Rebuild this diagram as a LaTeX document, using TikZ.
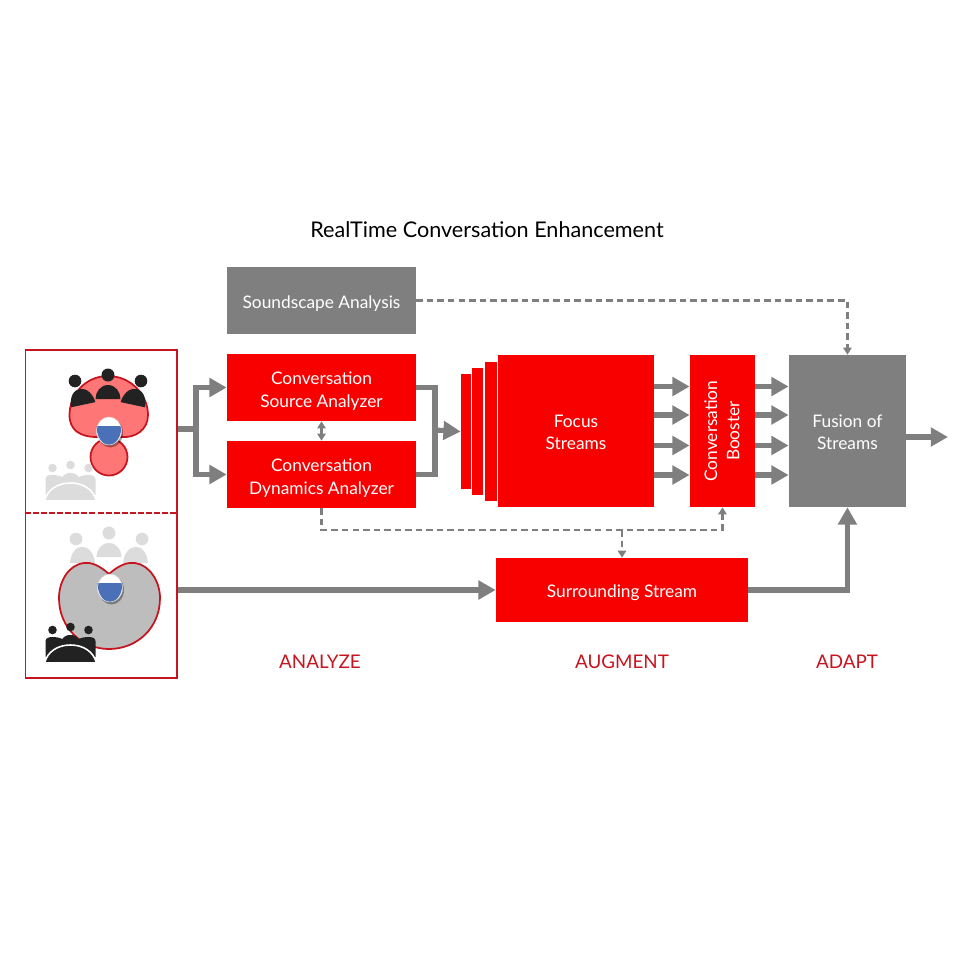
\documentclass[tikz,border=0pt]{standalone}
\usepackage{fontspec}
\setmainfont{Lato}
\usetikzlibrary{arrows.meta,calc,positioning}
\definecolor{boxred}{HTML}{F80000}
\definecolor{boxgray}{HTML}{7F7F7F}
\definecolor{lobered}{HTML}{FF7676}
\definecolor{lobeline}{HTML}{C8141E}
\definecolor{lobegray}{HTML}{BDBDBD}
\definecolor{headblue}{HTML}{4A70B8}
\definecolor{crowdgray}{HTML}{DCDCDC}
\definecolor{crowdblack}{HTML}{222222}
\tikzstyle{block} = [rectangle, fill=boxred, text=white, align=center, inner sep=0pt,
    font=\fontsize{9.85}{12.6}\selectfont, execute at begin node={\rule{0pt}{10.5pt}}]
\tikzstyle{wide} = [block, minimum width=3.78cm, minimum height=1.34cm]
\tikzstyle{tall} = [block, minimum height=3.04cm]
\tikzstyle{layer} = [rectangle, fill=boxred, inner sep=0pt]
\tikzstyle{line} = [draw=boxgray, line width=2.9pt, -{Triangle[width=10.4pt,length=9.8pt]}]
\tikzstyle{plain} = [draw=boxgray, line width=2.9pt]
\tikzstyle{ctrl} = [draw=boxgray, line width=1.2pt, dash pattern=on 3.7pt off 2.3pt, -{Triangle[width=4.8pt,length=4pt]}]
\tikzstyle{lobe} = [draw=lobeline, line width=1pt]
\tikzstyle{caption} = [text=lobeline, font=\fontsize{10.7}{12}\selectfont]
% two lines of box text, the first row taller to push them down
\newcommand{\twolines}[3]{\begin{tabular}{@{}c@{}}\rule{0pt}{#1}#2\\#3\end{tabular}}
% listener seen from above
\newcommand{\listener}[2]{
    \fill[black,opacity=0.35] (#1+1.5,#2+2) ellipse (12.5 and 14.5);
    \fill[white] (#1,#2) ellipse (12.5 and 14);
    \fill[headblue] (#1-12.5,#2-5) arc (180:0:12.5 and 19) -- cycle;
    \draw[white!70!gray,line width=0.3pt] (#1,#2) ellipse (12.5 and 14);
}
% three people at a table
\newcommand{\tablegroup}[3]{
    \fill[#3] (#1-18,#2+3) circle (4.3) (#1,#2) circle (4.3) (#1+18,#2+3) circle (4.3);
    \fill[#3] (#1-25,#2+30) -- (#1-25,#2+14) to[out=90,in=180] (#1-18,#2+10) to[out=0,in=160] (#1-8,#2+12) to[out=60,in=180] (#1,#2+8) to[out=0,in=120] (#1+8,#2+12) to[out=20,in=180] (#1+18,#2+10) to[out=0,in=90] (#1+25,#2+14) -- (#1+25,#2+30) -- cycle;
    \fill[#3,draw=white,line width=0.9pt] (#1-26,#2+36) to[out=75,in=180] (#1,#2+18) to[out=0,in=105] (#1+26,#2+36) -- cycle;
}
% three people facing front
\newcommand{\rowgroup}[4]{
    \fill[#3] (#1-33,#2+6) circle (6.3) (#1,#2) circle (6.5) (#1+33,#2+6) circle (6.3);
    \fill[#3,rotate around={#4:(#1-27,#2+22)}] (#1-39,#2+30) to[out=85,in=180] (#1-27,#2+14) to[out=0,in=95] (#1-14,#2+30) -- cycle;
    \fill[#3] (#1-12.5,#2+24) to[out=90,in=180] (#1,#2+10) to[out=0,in=90] (#1+12.5,#2+24) -- cycle;
    \fill[#3,rotate around={-#4:(#1+27,#2+22)}] (#1+39,#2+30) to[out=95,in=0] (#1+27,#2+14) to[out=180,in=85] (#1+14,#2+30) -- cycle;
}
\begin{document}
\begin{tikzpicture}[x=0.02cm,y=-0.02cm]
    \useasboundingbox (0,0) rectangle (958,958);

    \node [font=\fontsize{12.3}{14}\selectfont] (title) at (487,230) {RealTime Conversation Enhancement};

    % main blocks
    \node [wide] (source) at (321.5,387.5) {\twolines{13.4pt}{Conversation}{Source Analyzer}};
    \node [wide,node distance=1.74cm,below of=source] (dynamics) {\twolines{13.4pt}{Conversation}{Dynamics Analyzer}};
    \node [wide,fill=boxgray,node distance=1.74cm,above of=source] (sound) {Soundscape Analysis};
    \node [tall,minimum width=3.12cm] (focus) at (576,431) {\twolines{12.2pt}{Focus}{Streams}};
    \node [tall,minimum width=1.3cm,node distance=2.93cm,right of=focus] (booster) {\hspace*{1.6pt}\rotatebox{90}{\begin{tabular}{@{}c@{}}Conversation\\Booster\end{tabular}}};
    \node [tall,minimum width=2.34cm,fill=boxgray,node distance=2.5cm,right of=booster] (fusion) {\twolines{12.2pt}{Fusion of}{Streams}};
    \node [block,minimum width=5.04cm,minimum height=1.28cm] (surround) at (622,590) {Surrounding Stream};

    % stacked layers behind the focus block
    \node [layer,minimum width=0.24cm,minimum height=2.78cm] (layerc) at (491,431.5) {};
    \node [layer,minimum width=0.22cm,minimum height=2.54cm] (layerb) at (477.5,431.5) {};
    \node [layer,minimum width=0.2cm,minimum height=2.3cm] (layera) at (466,431.5) {};

    % left panel
    \node [draw=lobeline,line width=0.8pt,minimum width=3.03cm,minimum height=6.56cm,inner sep=0pt] (panel) at (101.25,514) {};
    \draw [draw=lobeline,line width=1pt,dash pattern=on 3.4pt off 1.2pt] (panel.west |- 0,513) -- (panel.east |- 0,513);

    % upper listening pattern
    \draw [lobe,fill=lobered] (109,457) circle (18.5);
    \draw [lobe,fill=lobered] (97,437) .. controls (80,437) and (69.5,430) .. (69.5,415) .. controls (69.5,395) and (85,376) .. (108,376) .. controls (131,376) and (148,395) .. (148,415) .. controls (148,430) and (135,438) .. (122,437) -- cycle;
    \rowgroup{108}{375}{crowdblack}{12}
    \listener{109}{431}
    \tablegroup{70.5}{465}{crowdgray}

    % lower listening pattern
    \rowgroup{109}{533}{crowdgray}{0}
    \draw [lobe,fill=lobegray] (109,574) .. controls (100,566) and (92,562) .. (84,563) .. controls (68,565) and (59,582) .. (59,598) .. controls (59,628) and (82,649) .. (109,649) .. controls (137,649) and (160,628) .. (160,598) .. controls (160,582) and (150,565) .. (135,563) .. controls (126,562) and (118,566) .. (109,574) -- cycle;
    \listener{110}{588}
    \tablegroup{70.5}{627}{crowdblack}

    % connectors
    \coordinate (forkin) at (panel.east |- 0,429);
    \coordinate (forkmid) at (196,429);
    \coordinate (mergemid) at (435,430);
    \path [plain] (forkin) -- (forkmid);
    \path [line] (forkmid) |- (source.west);
    \path [line] (forkmid) |- (dynamics.west);
    \path [plain] (source.east) -| (mergemid);
    \path [plain] (dynamics.east) -| (mergemid);
    \path [line] (mergemid) -- (layera.west);
    \path [line] (panel.east |- surround.west) -- (surround.west);
    \path [line] (surround.east) -| (fusion.south);
    \foreach \dy in {0.89,0.32,-0.29,-0.88} {
        \path [line] ([yshift=\dy cm]focus.east) -- ([yshift=\dy cm]booster.west);
        \path [line] ([yshift=\dy cm]booster.east) -- ([yshift=\dy cm]fusion.west);
    }
    \coordinate (out) at (948,437);
    \path [line] (fusion.east |- out) -- (out);

    % dashed control lines
    \coordinate (busy) at (622,530);
    \path [ctrl] (sound.east) -| (fusion.north);
    \path [ctrl,{Triangle[width=4.8pt,length=4pt]}-{Triangle[width=4.8pt,length=4pt]}] (source.south) -- (dynamics.north);
    \path [ctrl] (dynamics.south) |- (busy) -| (booster.south);
    \path [ctrl] (busy) -- (surround.north);

    \node [caption] (analyze) at (320,662) {ANALYZE};
    \node [caption] (augment) at (622,662) {AUGMENT};
    \node [caption] (adapt) at (847,662) {ADAPT};

\end{tikzpicture}
\end{document}
